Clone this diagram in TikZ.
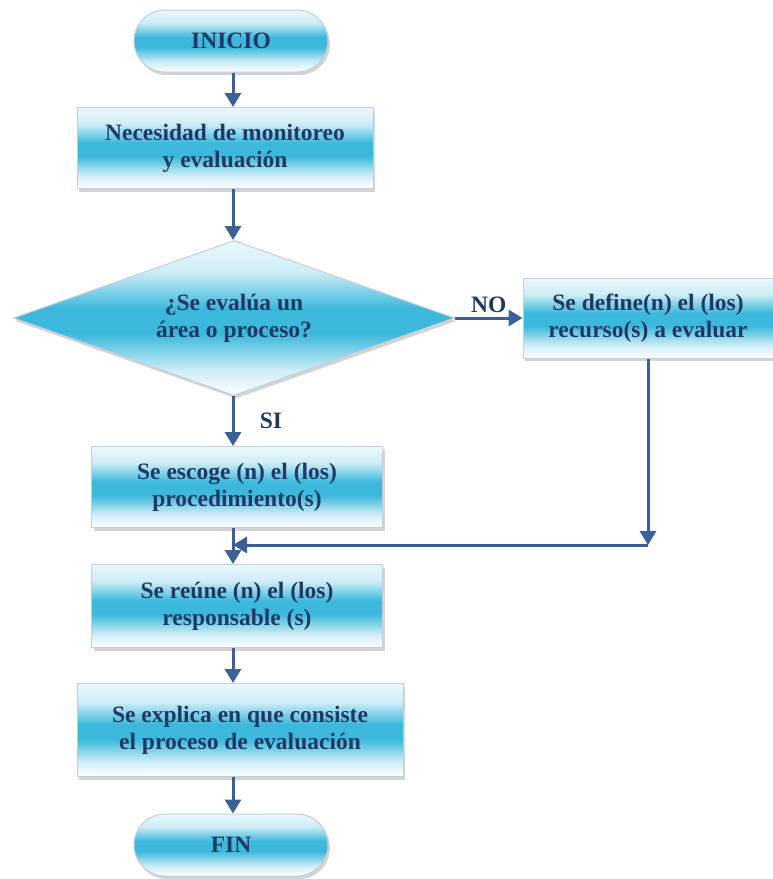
\documentclass[tikz,border=0pt]{standalone}
\usepackage{fontspec}
\setmainfont{Liberation Serif}
\usetikzlibrary{shapes.geometric,shapes.misc,shadows,arrows.meta}
\definecolor{azulTexto}{RGB}{31,56,100}
\definecolor{azulFlecha}{RGB}{58,96,150}
\definecolor{celeste}{RGB}{59,184,220}
\definecolor{bordeGris}{RGB}{196,206,220}
\pgfdeclareverticalshading{brillo}{100bp}{color(0bp)=(white); color(25bp)=(white);
  color(33bp)=(celeste!25); color(45bp)=(celeste); color(53bp)=(celeste);
  color(65bp)=(celeste!25); color(75bp)=(celeste!10); color(100bp)=(celeste!10)}
\begin{document}
\begin{tikzpicture}
[x=1pt,y=-1pt,
  cajaDecorate/.style={shape=rectangle,draw=bordeGris,line width=1pt,shading=brillo,
    drop shadow={opacity=0.35,shadow xshift=2pt,shadow yshift=-3pt},
    text=azulTexto,font=\fontsize{23.5}{27}\selectfont\bfseries,
    align=center,inner sep=2pt},
  terminalDecorate/.style={cajaDecorate,shape=rounded rectangle,
    minimum width=198,minimum height=62},
  romboDecorate/.style={cajaDecorate,shape=diamond,aspect=2.85,
    minimum width=441,minimum height=155,inner sep=0pt},
  etiquetaDecorate/.style={text=azulTexto,font=\fontsize{23.5}{27}\selectfont\bfseries},
  flechaDecorate/.style={draw=azulFlecha,line width=3pt,
    -{Triangle[width=16pt,length=14pt]}}]
\useasboundingbox (0,0) rectangle (772,879);
%% nodos del diagrama
\foreach \nombre/\y/\texto in {inicio/41/INICIO, fin/845/FIN}
{
  \node (\nombre) at (231,\y) [terminalDecorate] {\texto};
}
\foreach \nombre/\x/\y/\ancho/\alto/\texto in {
  necesidad/225/148/296/81/{Necesidad de monitoreo\\y evaluación},
  define/648/318/250/80/{Se define(n) el (los)\\recurso(s) a evaluar},
  escoge/237/487/291/81/{Se escoge (n) el (los)\\procedimiento(s)},
  reune/237/606/291/83/{Se reúne (n) el (los)\\responsable (s)},
  explica/240/730/326/93/{Se explica en que consiste\\el proceso de evaluación}}
{
  \node (\nombre) at (\x,\y) [cajaDecorate,minimum width=\ancho,minimum height=\alto] {\texto};
}
\node (pregunta) at (234,318) [romboDecorate] {¿Se evalúa un\\área o proceso?};
%% flechas o conectores
\coordinate (eje) at (233,0);
\foreach \ini/\fin in {inicio/necesidad, necesidad/pregunta, escoge/reune, reune/explica, explica/fin}
{
  \draw[flechaDecorate] (\ini.south -| eje) -- (\fin.north -| eje);
}
\draw[flechaDecorate] (pregunta.south -| eje) -- node[etiquetaDecorate,right=22pt] {SI} (escoge.north -| eje);
\draw[flechaDecorate] (pregunta.east) -- node[etiquetaDecorate,above] {NO} (define.west);
\coordinate (codo) at (648,545);
\coordinate (union) at (eje |- codo);
\draw[flechaDecorate] (define.south) -- (codo);
\draw[flechaDecorate] (codo) -- (union);
\end{tikzpicture}
\end{document}
